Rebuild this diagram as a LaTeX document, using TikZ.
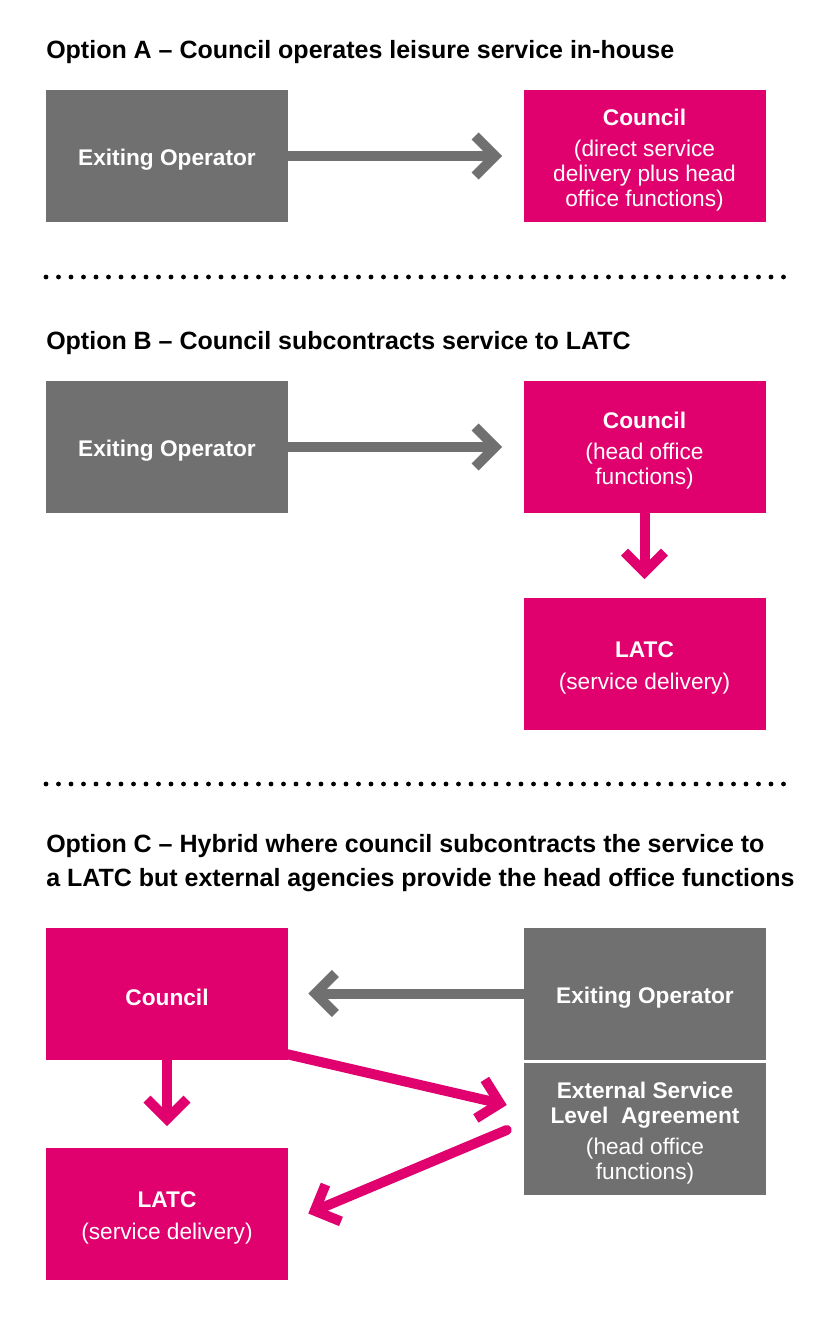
\documentclass[tikz,border=0pt]{standalone}
\usepackage{fontspec}
\setmainfont{Liberation Sans}
\usetikzlibrary{shapes}
\usetikzlibrary{arrows.meta}
\usetikzlibrary{calc}
\definecolor{opgrey}{RGB}{112,112,112}
\definecolor{cpink}{RGB}{224,0,110}
\newcommand{\boxhead}[1]{\rule{0pt}{18.5pt}\textbf{#1}}

\begin{document}
\begin{tikzpicture}[x=0.75pt,y=-0.75pt]
			\tikzstyle{box}=[rectangle,minimum width=181.5pt,minimum height=99pt,inner sep=0pt,text=white,align=center,font=\fontsize{17}{18.75}\selectfont]
			\tikzstyle{greybox}=[box,fill=opgrey]
			\tikzstyle{pinkbox}=[box,fill=cpink]
			\tikzstyle{title}=[anchor=base west,inner sep=0pt,align=left,font=\fontsize{18.75}{25.5}\selectfont\bfseries]
			\tikzstyle{link}=[line width=7.5pt,line cap=round,line join=round,-{Straight Barb[length=15pt,width=30pt]}]
			\tikzstyle{greylink}=[link,draw=opgrey]
			\tikzstyle{pinklink}=[link,draw=cpink]
			\tikzstyle{sep}=[line width=3.6pt,line cap=round,dash pattern=on 0pt off 9.375pt]
			
			\useasboundingbox (0,0) rectangle (815,1326);
			
			% option A
			\node[title] (ta) at (46,59) {Option A -- Council operates leisure service in-house};
			\node[greybox] (eoa) at (167,156) {\boxhead{Exiting Operator}};
			\node[pinkbox] (coa) at (644.5,156) {\boxhead{Council}\\[4.5pt](direct service\\delivery plus head\\office functions)};
			\draw[greylink] (eoa.east) -- ($(coa.west)+(-21,0)$);
			
			\draw[sep] (46,277) -- (790,277);
			
			% option B
			\node[title] (tb) at (46,350) {Option B -- Council subcontracts service to LATC};
			\node[greybox] (eob) at (167,447) {\boxhead{Exiting Operator}};
			\node[pinkbox] (cob) at (644.5,447) {\boxhead{Council}\\[4.5pt](head office\\functions)};
			\node[pinkbox] (lab) at (644.5,663.5) {\boxhead{LATC}\\[5pt](service delivery)};
			\draw[greylink] (eob.east) -- ($(cob.west)+(-21,0)$);
			\draw[pinklink] (cob.south) -- ($(lab.north)+(0,-18)$);
			
			\draw[sep] (46,784) -- (790,784);
			
			% option C
			\node[title] (tc) at (46,886) {Option C -- Hybrid where council subcontracts the service to\\a LATC but external agencies provide the head office functions};
			\node[pinkbox] (coc) at (167,993.5) {\boxhead{Council}};
			\node[greybox] (eoc) at (645,993.5) {\boxhead{Exiting Operator}};
			\node[greybox] (sla) at (645,1129) {\boxhead{External Service}\\\textbf{Level \ Agreement}\\[4.5pt](head office\\functions)};
			\node[pinkbox] (lac) at (167,1213.5) {\boxhead{LATC}\\[5pt](service delivery)};
			\draw[greylink] (eoc.west) -- ($(coc.east)+(20,0)$);
			\draw[pinklink] (coc.south) -- ($(lac.north)+(0,-21)$);
			\draw[pinklink] ($(coc.south east)+(-3,-6)$) -- ($(sla.west)+(-17,-24)$);
			\draw[pinklink] ($(sla.west)+(-17,1)$) -- ($(lac.east)+(20,0)$);
			
\end{tikzpicture}
\end{document}
